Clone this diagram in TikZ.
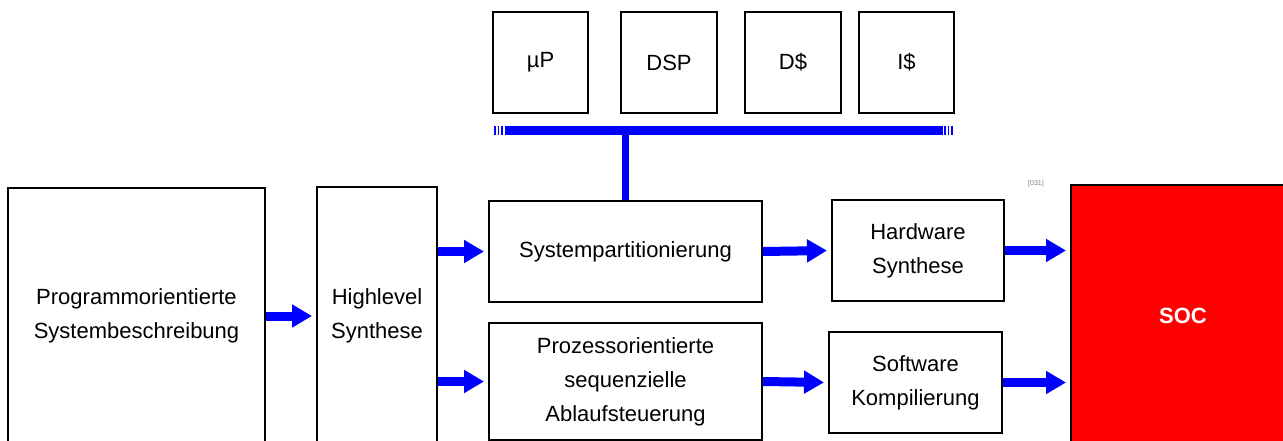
\documentclass[tikz,border=0pt]{standalone}
\usepackage{fontspec}
\setmainfont{Liberation Sans}
\usetikzlibrary{arrows.meta}

\begin{document}
\begin{tikzpicture}[x=1pt,y=-1pt]
\tikzstyle{every node}+=[inner sep=0pt]
\tikzstyle{block}=[draw=black, line width=2pt, align=center, font=\fontsize{22}{34}\selectfont]
\tikzstyle{flow}=[draw=blue, line width=9pt, -{Triangle[length=20pt,width=22pt]}, shorten >=4pt]
\tikzstyle{bus}=[draw=blue, line width=9pt]
\useasboundingbox (0,0) rectangle (1283,441);
\clip (0,0) rectangle (1283,441);

% cores on the bus
\node [block, minimum width=95pt, minimum height=101pt] (up) at (540.5,62.5) {µP};
\node [block, minimum width=96pt, minimum height=101pt] (dsp) at (669,62.5) {DSP};
\node [block, minimum width=96pt, minimum height=101pt] (dc) at (793,62.5) {D\$};
\node [block, minimum width=95pt, minimum height=101pt] (ic) at (906.5,62.5) {I\$};

\coordinate (busl) at (505,131);
\coordinate (busr) at (943,131);
\draw [bus] (busl) -- (busr);
\foreach \x in {494.8,498.5,502.2}
  \draw [blue, line width=1.7pt] (\x,126.5) -- (\x,135.5);
\foreach \x in {945,948.4,951.8}
  \draw [blue, line width=1.7pt] (\x,126.5) -- (\x,135.5);

% flow
\node [block, minimum width=257pt, minimum height=256pt] (prog) at (136.5,316) {Programmorientierte\\Systembeschreibung};
\node [block, minimum width=120pt, minimum height=258pt] (high) at (377,316) {Highlevel\\Synthese};
\node [block, minimum width=273pt, minimum height=101pt] (sys) at (625.5,251.5) {Systempartitionierung};
\node [block, minimum width=273pt, minimum height=117pt] (proz) at (625.5,381.5) {Prozessorientierte\\sequenzielle\\Ablaufsteuerung};
\node [block, minimum width=172pt, minimum height=101pt] (hw) at (918,250.5) {Hardware\\Synthese};
\node [block, minimum width=173pt, minimum height=101pt] (sw) at (915.5,382.5) {Software\\Kompilierung};
\node [block, fill=red, minimum width=224pt, minimum height=262pt, text=white, font=\fontsize{22}{26}\selectfont\bfseries] (soc) at (1183,316) {SOC};
\node [font=\fontsize{7}{8}\selectfont, text=gray] (ref) at (1036,184) {[031]};

\draw [blue, line width=7pt] (sys.north) -- (sys.north |- busl);

\draw [flow] (prog.east) -- (high.west);
\draw [flow] (high.east |- sys.west) -- (sys.west);
\draw [flow] (high.east |- proz.west) -- (proz.west);
\draw [flow] (sys.east) -- (hw.west);
\draw [flow] (proz.east) -- (sw.west);
\draw [flow] (hw.east) -- (hw.east -| soc.west);
\draw [flow] (sw.east) -- (sw.east -| soc.west);
\end{tikzpicture}
\end{document}
